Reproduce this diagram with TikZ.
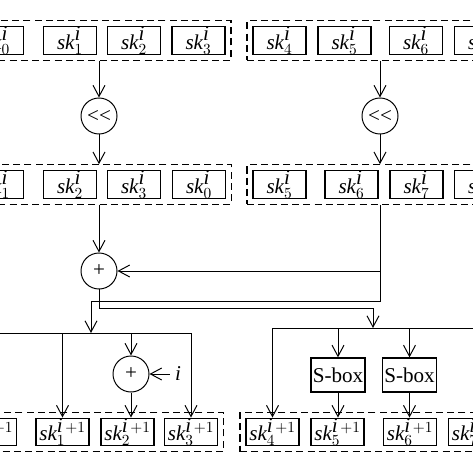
\documentclass[tikz,border=0pt]{standalone}
\usepackage{fontspec}
\setmainfont{Liberation Serif}
\usetikzlibrary{arrows.meta, fit, positioning}

\begin{document}
\begin{tikzpicture}[x=0.025cm, y=-0.025cm, line width=0.7pt,
        font=\fontsize{15}{18}\selectfont,
        key/.style={draw, line width=0.9pt, minimum width=1.33cm, minimum height=0.67cm, inner sep=0pt},
        grp/.style={draw, dash pattern=on 5pt off 3pt, line width=0.9pt, inner sep=0.13cm},
        op/.style={draw, circle, line width=0.7pt, minimum size=0.9cm, inner sep=0pt, font=\fontsize{15}{16}\selectfont},
        sbox/.style={draw, line width=0.9pt, minimum width=1.35cm, minimum height=0.85cm, inner sep=0pt},
        arr/.style={-{Straight Barb[length=2.8mm, width=3mm]}}]
        \useasboundingbox (0,0) rectangle (473,473);
        \clip (0,0) rectangle (473,473);

        % round keys
        \foreach \n/\x in {0/-3, 1/70, 2/134, 3/198.5, 4/279.5, 5/344.5, 6/416, 7/481}
            \node[key] (t\n) at (\x,40.5) {$\textit{sk}^{\textit{i}}_{\n}$};
        \foreach \n/\x in {1/-3, 2/70, 3/134, 0/199, 5/279.5, 6/351.5, 7/416.5, 4/481}
            \node[key] (m\n) at (\x,184.5) {$\textit{sk}^{\textit{i}}_{\n}$};
        \foreach \n/\x in {0/-10, 1/62.5, 2/127.5, 3/191, 4/272.5, 5/337.5, 6/410, 7/475}
            \node[key] (b\n) at (\x,432) {$\textit{sk}^{\textit{i}\,+1}_{\n}$};

        \node[grp, fit=(t0)(t3)] (gt1) {};
        \node[grp, fit=(t4)(t7)] (gt2) {};
        \node[grp, fit=(m1)(m0)] (gm1) {};
        \node[grp, fit=(m5)(m4)] (gm2) {};
        \node[grp, fit=(b0)(b3)] (gb1) {};
        \node[grp, fit=(b4)(b7)] (gb2) {};

        % operations
        \node[op] (sl) at (99,116) {<{}<};
        \node[op] (sr) at (380,116) {<{}<};
        \node[op] (xa) at (99,271) {+};
        \node[op] (xb) at (131,374) {+};
        \node (iv) at (178,374) {\textit{i}};
        \node[sbox] (s1) at (338,375) {S-box};
        \node[sbox] (s2) at (409.5,375) {S-box};

        \coordinate (jl) at (91,301);
        \coordinate (jr) at (373,308);
        \coordinate (busL) at (0,333);
        \coordinate (busR) at (0,328);

        \draw[arr] (sl |- gt1.south) -- (sl);
        \draw[arr] (sl) -- (sl |- gm1.north);
        \draw[arr] (sr |- gt2.south) -- (sr);
        \draw[arr] (sr) -- (sr |- gm2.north);

        \draw[arr] (xa |- gm1.south) -- (xa);
        \draw[arr] (sr |- xa) -- (xa);
        \draw[arr] (sr |- gm2.south) |- (jl) -- (jl |- busL);
        \draw[arr] (xa) |- (jr) -- (jr |- busR);

        % left half
        \draw (b0.north |- busL) -- (b3.north |- busL);
        \draw[arr] (b1.north |- busL) -- (b1);
        \draw[arr] (xb |- busL) -- (xb);
        \draw[arr] (iv) -- (xb);
        \draw[arr] (xb) -- (xb |- b2.north);
        \draw[arr] (b3.north |- busL) -- (b3);

        % right half
        \draw (b4.north |- busR) -- (b7.north |- busR);
        \draw[arr] (b4.north |- busR) -- (b4);
        \draw[arr] (s1 |- busR) -- (s1);
        \draw[arr] (s1) -- (s1 |- b5.north);
        \draw[arr] (s2 |- busR) -- (s2);
        \draw[arr] (s2) -- (s2 |- b6.north);
\end{tikzpicture}
\end{document}
